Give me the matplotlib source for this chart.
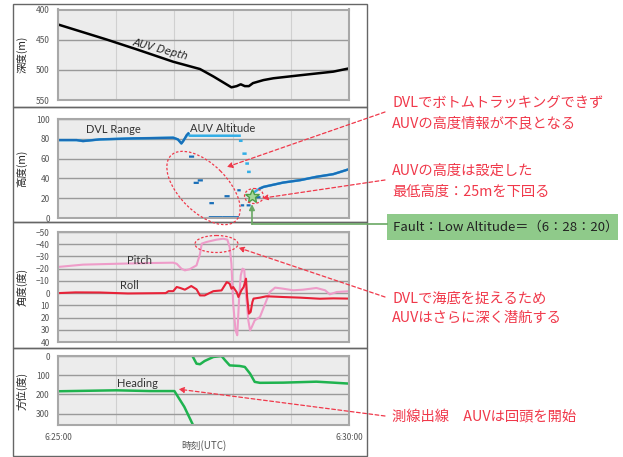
import numpy as np
import matplotlib
matplotlib.use('Agg')
from matplotlib import pyplot as plt
from matplotlib.patches import Rectangle, Ellipse

plt.rcParams['font.family'] = ['Noto Sans CJK JP', 'DejaVu Sans']

nan = np.nan

# time axis: minutes after 6:25:00 UTC
depth_t = [0, 0.83, 1.35, 1.98, 2.44, 2.67, 2.98, 3.07, 3.14, 3.21, 3.28, 3.35, 3.53, 3.70, 4.16, 4.73, 5.0]
depth_v = [424.8, 449.6, 466, 486.6, 498.7, 511, 529, 527, 524, 527, 527, 522, 517, 514, 509, 503, 497.6]

dvl_t = [0, 0.32, 0.43, 0.72, 1.29, 1.98, 2.06, 2.12, 2.15, 2.18, 2.21, 2.24, nan,
         2.27, 2.32, nan, 2.35, 2.40, nan, 2.42, 2.47, nan, 2.62, 2.66, nan,
         2.88, 2.93, nan, 2.61, 2.80, nan, 2.84, 3.09, nan, 3.10, 3.12, nan,
         3.16, 3.18, nan, 3.26, 3.29, nan, 3.33, 3.37, nan, 3.42, 3.46, nan,
         3.47, 3.53, 3.87, 4.16, 4.44, 4.73, 5.0]
dvl_v = [78.7, 78.7, 77.7, 79.4, 80.4, 81.1, 79.4, 75.3, 77.5, 80.4, 83.8, 85.5, nan,
         62.0, 62.0, nan, 35.5, 35.5, nan, 38.0, 38.0, nan, 15.0, 15.0, nan,
         22.0, 22.0, nan, 0.8, 0.8, nan, 0.8, 0.8, nan, 28.0, 28.0, nan,
         12.8, 12.8, nan, 12.8, 12.8, nan, 23.0, 23.0, nan, 21.0, 21.0, nan,
         29.7, 31.4, 35.8, 38.2, 41.6, 44.3, 49.3]

alt_t = [0, 0.32, 0.43, 0.72, 1.29, 1.98, 2.06, 2.12, 2.18, 2.24, 2.26, 3.12, nan,
         3.13, 3.15, nan, 3.19, 3.22, nan, 3.24, 3.26, nan, 3.27, 3.29, nan,
         3.37, 3.42, 3.47, 3.53, 3.87, 4.16, 4.44, 4.73, 5.0]
alt_v = [78.7, 78.7, 77.7, 79.4, 80.4, 81.1, 79.4, 75.3, 80.4, 85.5, 83.1, 83.1, nan,
         78.0, 78.0, nan, 65.0, 65.0, nan, 55.0, 55.0, nan, 46.6, 46.6, nan,
         26.0, 28.0, 30.0, 31.4, 35.8, 38.2, 41.6, 44.3, 49.3]

fault_t = 3.333
fault_alt = 22.5

pitch_t = [0, 0.43, 1.0, 1.58, 1.98, 2.04, 2.12, 2.18, 2.26, 2.38, 2.44, 2.47, 2.55, 2.72,
           2.84, 2.91, 2.95, 2.98, 3.01, 3.05, 3.08, 3.11, 3.14, 3.17, 3.20, 3.23, 3.27,
           3.30, 3.33, 3.38, 3.47, 3.56, 3.64, 3.73, 3.87, 4.04, 4.21, 4.44, 4.59, 4.67,
           4.79, 5.0]
pitch_v = [-21.4, -23.3, -24, -24.6, -24.9, -24, -20, -18.6, -19.5, -22.7, -32, -40.5,
           -41.8, -43.7, -44.5, -43.7, -37.7, -24, 8.6, 30.5, 34.5, 5.9, -14.5, -20,
           -19.2, 0.5, 22.3, 30.5, 27.7, 22.3, 19.5, 8.6, -0.9, -4.5, -3.6, -2.3, -2.8,
           -4.2, -2.3, 1.0, -0.9, -1.5]

roll_t = [0, 0.3, 0.72, 1.2, 1.85, 1.9, 1.98, 2.04, 2.1, 2.18, 2.29, 2.38, 2.44, 2.52,
          2.67, 2.81, 2.9, 2.95, 2.98, 3.01, 3.07, 3.1, 3.15, 3.19, 3.23, 3.25, 3.28,
          3.31, 3.34, 3.36, 3.47, 3.58, 3.87, 4.16, 4.5, 4.73, 5.0]
roll_v = [0, -0.6, -0.5, 0.3, 0, -1.6, -1.6, -5, -4.2, -2.8, -5.8, -3.1, 1.9, 1.9,
          -1.6, -2.2, -9, -7.7, -3.6, -5, -0.8, 3.2, -2.2, -5, -11.8, 3.2, 16.8,
          15.4, 7.3, 4.5, 3.7, 2.6, 3.2, 3.7, 4.6, 4.3, 4.5]

head_t = [0, 1.0, 1.58, 2.0, 2.17, 2.32, nan, 2.31, 2.38, 2.44, 2.52, 2.67, 2.81,
          2.87, 2.95, 3.12, 3.21, 3.30, 3.38, 3.47, 3.87, 4.44, 4.73, 5.0]
head_v = [184, 179, 183, 183, 265, 360, nan, 0, 40, 43, 26, 5, 0,
          22, 49, 52, 57, 92, 135, 140, 139, 134, 139, 144]

note_red = '#f0384a'
W, H = 623, 457


def box(x0, y0, x1, y1):
    return [x0 / W, 1 - y1 / H, (x1 - x0) / W, (y1 - y0) / H]


fig = plt.figure(figsize=(W / 100, H / 100), dpi=100)

axes = [fig.add_axes(box(58, 9.5, 349, 100)),
        fig.add_axes(box(58, 119, 349, 218)),
        fig.add_axes(box(58, 232, 349, 342)),
        fig.add_axes(box(58, 356, 349, 425))]
ylims = [(550, 400), (0, 100), (40, -50), (360, 0)]
yticks = [[400, 450, 500, 550], range(0, 101, 20), range(-50, 41, 10), [0, 100, 200, 300]]
ylabels = ['深度(m)', '高度(m)', '角度(度)', '方位(度)']

for ax, lim, tk, lab in zip(axes, ylims, yticks, ylabels):
    ax.set_facecolor('#ececec')
    ax.set_xlim(0, 5)
    ax.set_ylim(*lim)
    ax.set_yticks(list(tk))
    ax.set_xticks(range(6))
    ax.set_xticklabels([])
    ax.grid(axis='y', color='#9a9a9a', lw=1.0)
    ax.grid(axis='x', color='#d0d0d0', lw=0.8)
    ax.set_axisbelow(True)
    for s in ax.spines.values():
        s.set_color('#a8a8a8')
        s.set_linewidth(1.5)
    ax.tick_params(length=0, labelsize=6, labelcolor='#555555', pad=6)
    ax.set_ylabel(lab, fontsize=7.5, color='#222222')
    ax.yaxis.set_label_coords(-0.105, 0.5)

ax1, ax2, ax3, ax4 = axes
ax4.set_xticklabels(['6:25:00', '', '', '', '', '6:30:00'])
ax4.tick_params(axis='x', pad=6)
ax4.set_xlabel('時刻(UTC)', fontsize=7, color='#555555')
ax4.xaxis.set_label_coords(0.5, -0.22)

label_kw = dict(fontsize=8, color='#333333', family='Lato', va='center')

# depth
ax1.plot(depth_t, depth_v, color='black', lw=1.8)
ax1.text(1.76, 466, 'AUV Depth', fontsize=7.5, style='italic', color='#222222',
         rotation=-15, ha='center', va='center', family='DejaVu Sans')

# altitude / DVL range
ax2.plot(alt_t, alt_v, color='#33aee6', lw=1.8)
ax2.plot(dvl_t, dvl_v, color='#1a6fb8', lw=1.6)
ax2.plot([fault_t], [fault_alt], marker='*', ms=10, mfc='#a6d89a', mec='#4e9e48', mew=1)
ax2.text(0.48, 89, 'DVL Range', **label_kw)
ax2.text(2.27, 90, 'AUV Altitude', **label_kw)

# pitch / roll
ax3.plot(pitch_t, pitch_v, color='#ee9cc9', lw=1.5)
ax3.plot(roll_t, roll_v, color='#e82238', lw=1.5)
ax3.text(1.19, -26.5, 'Pitch', **label_kw)
ax3.text(1.06, -6.6, 'Roll', **label_kw)

# heading
ax4.plot(head_t, head_v, color='#1fb34f', lw=1.8)
ax4.text(1.01, 144, 'Heading', **label_kw)

# overlay in pixel units for frames and notes
ov = fig.add_axes([0, 0, 1, 1], zorder=10)
ov.set_xlim(0, W)
ov.set_ylim(H, 0)
ov.axis('off')
ov.patch.set_alpha(0)

for y0, y1 in [(4, 107), (107, 222), (222, 348), (348, 456)]:
    ov.add_patch(Rectangle((13, y0), 354, y1 - y0, fill=False, ec='#666666', lw=1))

ov.add_patch(Ellipse((203.5, 188), 92, 48, angle=45, fill=False, ec=note_red, lw=0.9, ls=(0, (2, 1.5))))
ov.add_patch(Ellipse((254, 196), 19, 15, fill=False, ec=note_red, lw=0.9, ls=(0, (2, 1.5))))
ov.add_patch(Ellipse((216.5, 244), 43, 17, fill=False, ec=note_red, lw=0.9, ls=(0, (2, 1.5))))

arrow_kw = dict(arrowstyle='-|>', color=note_red, lw=0.9, ls=(0, (3, 2)),
                mutation_scale=8, shrinkA=0, shrinkB=0)
notes = [
    ((385, 112), ax2, (2.90, 51.5)),
    ((385, 180), ax2, (3.51, 20.0)),
    ((385, 297), ax3, (3.10, -37.2)),
    ((385, 416), ax4, (2.07, 173)),
]
for start, ax, tip in notes:
    ov.annotate('', xy=tip, xycoords=ax.transData, xytext=start, textcoords='data',
                arrowprops=arrow_kw)

lines = [(103, 'DVLでボトムトラッキングできず'), (123, 'AUVの高度情報が不良となる'),
         (171, 'AUVの高度は設定した'), (192, '最低高度：25mを下回る'),
         (299, 'DVLで海底を捉えるため'), (318, 'AUVはさらに深く潜航する'),
         (417, '測線出線　AUVは回頭を開始')]
for y, s in lines:
    ov.text(392, y, s, color=note_red, fontsize=10.3, va='center')

# fault box with green leader
ov.add_patch(Rectangle((387, 214), 231, 26, fc='#8fca8a', ec='none'))
ov.text(393, 227, 'Fault：Low Altitude＝（6：28：20）', fontsize=9.5, color='#222222', va='center')
ov.plot([387, 252], [224, 224], color='#6aa864', lw=1.2)
ov.annotate('', xy=(fault_t, 14), xycoords=ax2.transData, xytext=(252, 224), textcoords='data',
            arrowprops=dict(arrowstyle='-|>', color='#6aa864', lw=1.2, mutation_scale=8,
                            shrinkA=0, shrinkB=0))

fig.savefig('out.png', dpi=100)
